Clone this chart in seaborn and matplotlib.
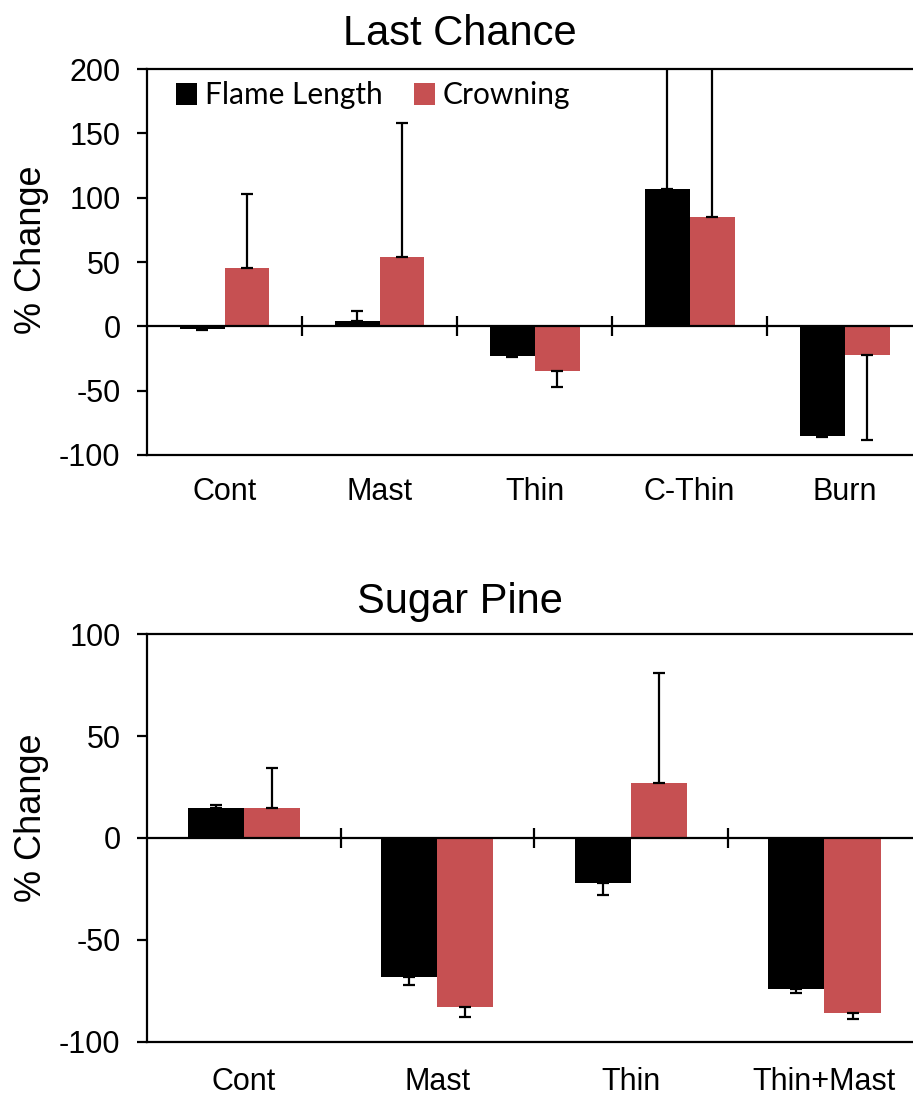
import numpy as np
import pandas as pd
import matplotlib
matplotlib.use("Agg")
import matplotlib.pyplot as plt
import seaborn as sns

# Last Chance site: treatments and % change in fire behaviour
cats_lc = ["Cont", "Mast", "Thin", "C-Thin", "Burn"]
flame_lc = [-2, 4, -23, 107, -85]
flame_lc_err = [1, 8, 1, 130, 1]
crown_lc = [45, 54, -35, 85, -22]
crown_lc_err = [58, 104, 12, 150, 66]

# Sugar Pine site
cats_sp = ["Cont", "Mast", "Thin", "Thin+Mast"]
flame_sp = [14.5, -68, -22, -74]
flame_sp_err = [1.5, 4, 6, 2]
crown_sp = [14.5, -83, 27, -86]
crown_sp_err = [20, 5, 54, 2.5]

series = ["Flame Length", "Crowning"]
colors = {"Flame Length": "#000000", "Crowning": "#C65052"}

sns.set_style("ticks")
plt.rcParams["font.family"] = ["Liberation Sans", "DejaVu Sans"]
plt.rcParams["axes.linewidth"] = 1.6
plt.rcParams["axes.unicode_minus"] = False
for key in ["text.color", "axes.labelcolor", "xtick.color", "ytick.color",
            "axes.edgecolor"]:
    plt.rcParams[key] = "black"

fig = plt.figure(figsize=(9.13, 10.99), dpi=100)
ax_top = fig.add_axes([0.161, 0.586, 0.849, 0.3512])
ax_bot = fig.add_axes([0.161, 0.0519, 0.848, 0.3712])


def draw_panel(ax, cats, flame, flame_err, crown, crown_err, title, ylim, yticks,
               show_legend, ylabel_y, title_pad, xpad):
    df = pd.DataFrame({
        "treatment": cats * 2,
        "metric": [series[0]] * len(cats) + [series[1]] * len(cats),
        "value": list(flame) + list(crown),
    })
    sns.barplot(data=df, x="treatment", y="value", hue="metric",
                order=cats, hue_order=series, palette=colors,
                width=0.58, errorbar=None, saturation=1, linewidth=0,
                ax=ax, legend=show_legend)

    # one-sided error bars pointing away from zero
    for cont, vals, errs in zip(ax.containers, [flame, crown], [flame_err, crown_err]):
        for bar, v, e in zip(cont, vals, errs):
            xc = bar.get_x() + bar.get_width() / 2
            lo, hi = (0, e) if v >= 0 else (e, 0)
            ax.errorbar(xc, v, yerr=[[lo], [hi]], fmt="none", ecolor="black",
                        elinewidth=1.6, capsize=4.5, capthick=1.6, zorder=3)

    ax.axhline(0, color="black", lw=1.6, zorder=4)
    bounds = np.arange(len(cats) - 1) + 0.5
    ax.plot(bounds, np.zeros_like(bounds), ls="none", marker="|", ms=15,
            mew=1.6, color="black", zorder=4)

    ax.set_xlim(-0.5, len(cats) - 0.5)
    ax.set_ylim(*ylim)
    ax.set_yticks(yticks)
    ax.tick_params(axis="y", direction="out", length=7, width=1.6,
                   labelsize=22, pad=12)
    ax.tick_params(axis="x", length=0, labelsize=22, pad=xpad)
    for side in ["top", "bottom", "left"]:
        ax.spines[side].set_visible(True)
        ax.spines[side].set_color("black")
        ax.spines[side].set_linewidth(1.6)
    ax.spines["right"].set_visible(False)

    ax.set_xlabel("")
    ax.set_ylabel("% Change", fontsize=26)
    ax.yaxis.set_label_coords(-0.127, ylabel_y)
    ax.set_title(title, fontsize=30, x=0.404, pad=title_pad)

    if show_legend:
        handles, labels = ax.get_legend_handles_labels()
        ax.get_legend().remove()
        ax.legend(handles, labels, loc="upper left", bbox_to_anchor=(0.037, 0.968),
                  ncol=2, frameon=False, borderpad=0, borderaxespad=0,
                  handlelength=0.72, handleheight=0.72, handletextpad=0.25,
                  columnspacing=1.05, prop={"family": "Lato", "size": 21.5})


draw_panel(ax_top, cats_lc, flame_lc, flame_lc_err, crown_lc, crown_lc_err,
           "Last Chance", (-100, 200), [-100, -50, 0, 50, 100, 150, 200],
           True, 0.531, 17, 16)
draw_panel(ax_bot, cats_sp, flame_sp, flame_sp_err, crown_sp, crown_sp_err,
           "Sugar Pine", (-100, 100), [-100, -50, 0, 50, 100],
           False, 0.549, 15, 18)

fig.savefig("out.png", dpi=100, facecolor="white")
